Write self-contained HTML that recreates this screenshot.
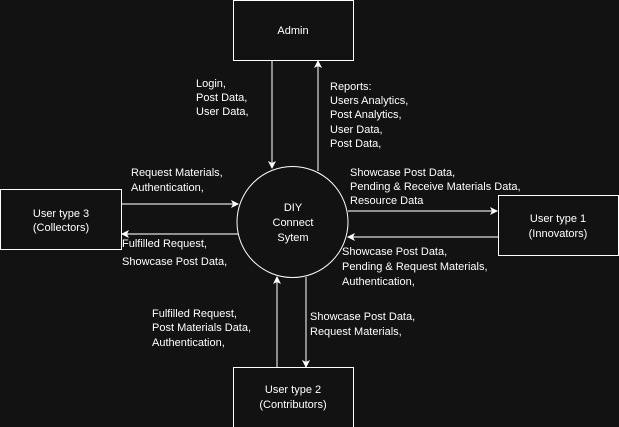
<!DOCTYPE html>
<html><head><style>
body{margin:0;background:#121212;}
svg{display:block}
text{font-family:"Liberation Sans",Arial,sans-serif;font-size:11px;fill:#fff}
</style></head><body>
<svg width="619" height="427" viewBox="0 0 619 427">
<defs><marker id="a" markerWidth="8" markerHeight="8" refX="7" refY="4" orient="auto" markerUnits="userSpaceOnUse"><path d="M0,0 L8,4 L0,8 L2,4 Z" fill="#fff"/></marker></defs>
<rect width="619" height="427" fill="#121212"/>
<g stroke="#fff" stroke-width="1" fill="#121212">
<rect x="233.5" y="0.5" width="120" height="60"/>
<rect x="0.5" y="189.5" width="121" height="60"/>
<rect x="498.5" y="195.5" width="120" height="60"/>
<rect x="233.5" y="367.5" width="120" height="60"/>
<circle cx="292.5" cy="222" r="55.5"/>
</g>
<g stroke="#ddd" stroke-width="1.2" fill="none">
<line x1="272" y1="61" x2="272" y2="168" marker-end="url(#a)"/>
<line x1="318" y1="171" x2="318" y2="61" marker-end="url(#a)"/>
<line x1="122" y1="204" x2="238" y2="204" marker-end="url(#a)"/>
<line x1="238" y1="234" x2="122" y2="234" marker-end="url(#a)"/>
<line x1="348" y1="211" x2="497" y2="211" marker-end="url(#a)"/>
<line x1="498" y1="237" x2="348" y2="237" marker-end="url(#a)"/>
<line x1="277" y1="367" x2="277" y2="277" marker-end="url(#a)"/>
<line x1="306" y1="277" x2="306" y2="367" marker-end="url(#a)"/>
</g>
<text x="293" y="34" text-anchor="middle">Admin</text>
<text x="61" y="217" text-anchor="middle">User type 3</text>
<text x="61" y="231" text-anchor="middle">(Collectors)</text>
<text x="558" y="222" text-anchor="middle">User type 1</text>
<text x="558" y="237" text-anchor="middle">(Innovators)</text>
<text x="293" y="393" text-anchor="middle">User type 2</text>
<text x="293" y="408" text-anchor="middle">(Contributors)</text>
<text x="293" y="211" text-anchor="middle">DIY</text>
<text x="293" y="226" text-anchor="middle">Connect</text>
<text x="293" y="241" text-anchor="middle">Sytem</text>
<text x="196" y="87">Login,</text>
<text x="196" y="101">Post Data,</text>
<text x="196" y="115">User Data,</text>
<text x="330" y="90">Reports:</text>
<text x="330" y="104">Users Analytics,</text>
<text x="330" y="118">Post Analytics,</text>
<text x="330" y="133">User Data,</text>
<text x="330" y="147">Post Data,</text>
<text x="131" y="176">Request Materials,</text>
<text x="131" y="191">Authentication,</text>
<text x="350" y="176">Showcase Post Data,</text>
<text x="350" y="190">Pending &amp; Receive Materials Data,</text>
<text x="350" y="204">Resource Data</text>
<text x="122" y="247">Fulfilled Request,</text>
<text x="122" y="265">Showcase Post Data,</text>
<text x="342" y="255">Showcase Post Data,</text>
<text x="342" y="270">Pending &amp; Request Materials,</text>
<text x="342" y="285">Authentication,</text>
<text x="152" y="317">Fulfilled Request,</text>
<text x="152" y="331">Post Materials Data,</text>
<text x="152" y="346">Authentication,</text>
<text x="310" y="320">Showcase Post Data,</text>
<text x="310" y="335">Request Materials,</text>
</svg>
</body></html>
